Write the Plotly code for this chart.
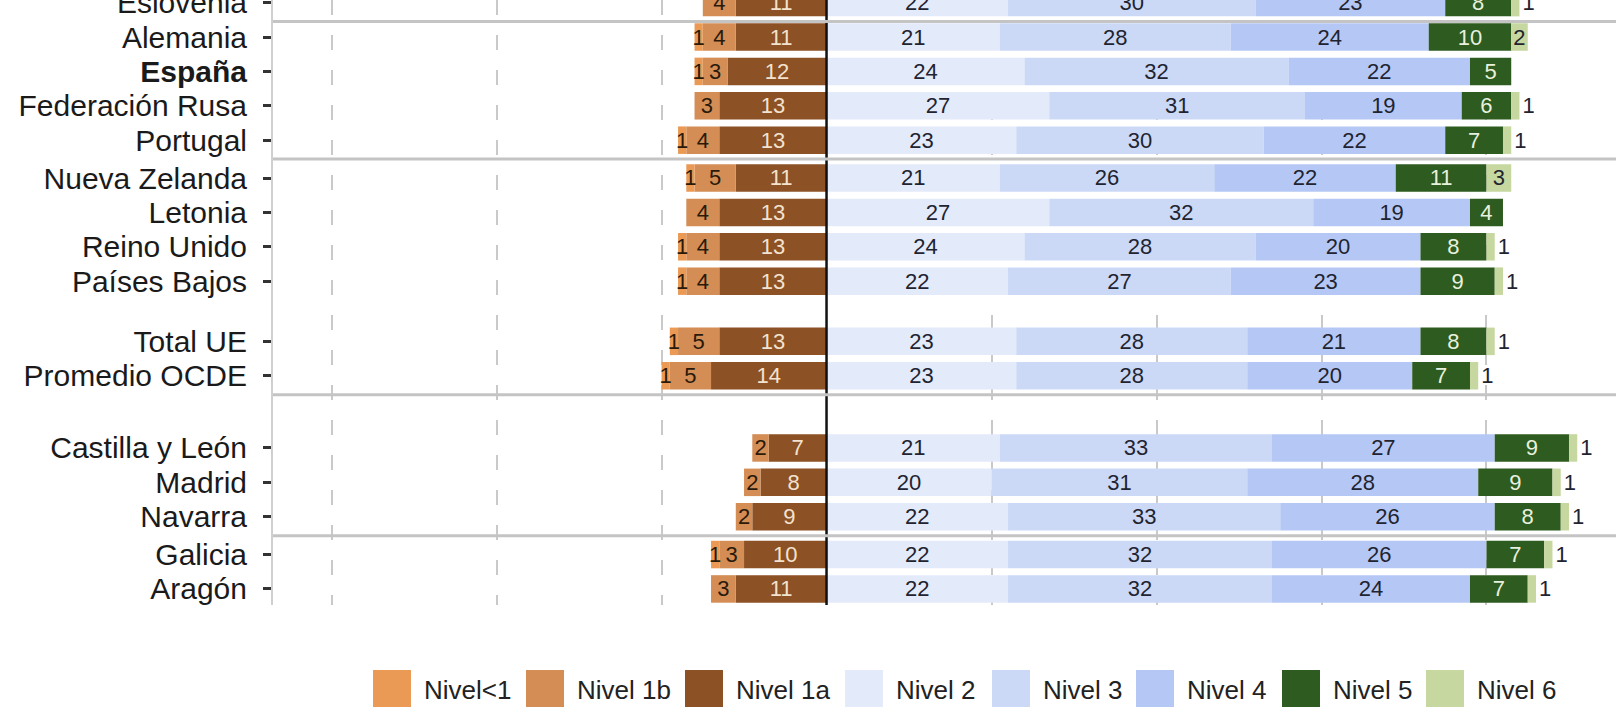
import plotly.graph_objects as go

# ---------------- data ----------------
countries = ["Eslovenia", "Alemania", "España", "Federación Rusa", "Portugal",
             "Nueva Zelanda", "Letonia", "Reino Unido", "Países Bajos",
             "Total UE", "Promedio OCDE",
             "Castilla y León", "Madrid", "Navarra", "Galicia", "Aragón"]
nivel_lt1 = [0, 1, 1, 0, 1, 1, 0, 1, 1, 1, 1, 0, 0, 0, 1, 0]
nivel_1b = [4, 4, 3, 3, 4, 5, 4, 4, 4, 5, 5, 2, 2, 2, 3, 3]
nivel_1a = [11, 11, 12, 13, 13, 11, 13, 13, 13, 13, 14, 7, 8, 9, 10, 11]
nivel_2 = [22, 21, 24, 27, 23, 21, 27, 24, 22, 23, 23, 21, 20, 22, 22, 22]
nivel_3 = [30, 28, 32, 31, 30, 26, 32, 28, 27, 28, 28, 33, 31, 33, 32, 32]
nivel_4 = [23, 24, 22, 19, 22, 22, 19, 20, 23, 21, 20, 27, 28, 26, 26, 24]
nivel_5 = [8, 10, 5, 6, 7, 11, 4, 8, 9, 8, 7, 9, 9, 8, 7, 7]
nivel_6 = [1, 2, 0, 1, 1, 3, 0, 1, 1, 1, 1, 1, 1, 1, 1, 1]

level_names = ["Nivel<1", "Nivel 1b", "Nivel 1a", "Nivel 2", "Nivel 3",
               "Nivel 4", "Nivel 5", "Nivel 6"]
bold_labels = ["España"]
separator_after = ["Eslovenia", "Portugal", "Promedio OCDE", "Navarra"]

# ---------------- style / layout ----------------
extra_gap_after = {"Portugal": 0.1, "Países Bajos": 0.75,
                   "Promedio OCDE": 1.1, "Navarra": 0.1}
colors = {
    "Nivel<1": "#EA9A55", "Nivel 1b": "#D38D55", "Nivel 1a": "#8C5124",
    "Nivel 2": "#E3EAFA", "Nivel 3": "#CBD9F7", "Nivel 4": "#B5C8F5",
    "Nivel 5": "#2E5B1F", "Nivel 6": "#C6D79F",
}
text_colors = {
    "Nivel<1": "#2a1a0a", "Nivel 1b": "#2a1a0a", "Nivel 1a": "#F3E2CF",
    "Nivel 2": "#1f2430", "Nivel 3": "#1f2430", "Nivel 4": "#1f2430",
    "Nivel 5": "#E8F0DE", "Nivel 6": "#1f2430",
}
NUM_FONT = "Liberation Sans Narrow, Arial Narrow, Liberation Sans, Arial"
LBL_FONT = "Liberation Sans, Arial, sans-serif"
NUM_SIZE = 22

# y positions (row index with extra gaps)
ypos = []
p = 0.0
for c in countries:
    ypos.append(p)
    p += 1 + extra_gap_after.get(c, 0)

W, H = 1616, 707
ML, MR, MT, MB = 273, 0, 0, 102
pw, ph = W - ML - MR, H - MT - MB

fig = go.Figure()

def add_level(name, vals, sign, pos_rule=None):
    xs = [sign * v for v in vals]
    txt = [str(v) if v > 0 else "" for v in vals]
    tpos = "inside" if pos_rule is None else [pos_rule(v) for v in vals]
    fig.add_trace(go.Bar(
        y=ypos, x=xs, orientation="h", name=name,
        marker=dict(color=colors[name], line=dict(width=0)),
        text=txt, textposition=tpos, insidetextanchor="middle",
        textangle=0, cliponaxis=False,
        textfont=dict(family=NUM_FONT, size=NUM_SIZE, color=text_colors[name]),
        outsidetextfont=dict(family=NUM_FONT, size=NUM_SIZE, color="#1f2430"),
        width=0.8, showlegend=False, hoverinfo="skip",
    ))

# negative side: nearest to zero first
add_level("Nivel 1a", nivel_1a, -1)
add_level("Nivel 1b", nivel_1b, -1)
add_level("Nivel<1", nivel_lt1, -1)
# positive side
add_level("Nivel 2", nivel_2, 1)
add_level("Nivel 3", nivel_3, 1)
add_level("Nivel 4", nivel_4, 1)
add_level("Nivel 5", nivel_5, 1)
add_level("Nivel 6", nivel_6, 1, pos_rule=lambda v: "outside" if v == 1 else "inside")

ticktext = [f"<b>{c}</b>" if c in bold_labels else c for c in countries]

shapes = []
# zero line
shapes.append(dict(type="line", xref="x", yref="paper", x0=0, x1=0, y0=0, y1=1,
                   line=dict(color="#111111", width=2.5), layer="above"))
# group separators
for c in separator_after:
    yy = ypos[countries.index(c)] + 0.55
    shapes.append(dict(type="line", xref="paper", yref="y", x0=0, x1=1, y0=yy, y1=yy,
                       line=dict(color="#C4C4C4", width=3), layer="above"))

# manual legend (pixel layout converted to paper coords)
legend_px = [373, 526, 685, 845, 992, 1136, 1282, 1426]
sw_w, sw_top, sw_bot, txt_mid = 38, 670, 707, 690
annotations = []
for name, px in zip(level_names, legend_px):
    x0 = (px - ML) / pw
    x1 = (px + sw_w - ML) / pw
    y0 = (ph - (sw_bot - MT)) / ph
    y1 = (ph - (sw_top - MT)) / ph
    shapes.append(dict(type="rect", xref="paper", yref="paper", x0=x0, x1=x1,
                       y0=y0, y1=y1, fillcolor=colors[name], line=dict(width=0)))
    annotations.append(dict(xref="paper", yref="paper", x=(px + 49 - ML) / pw,
                            y=(ph - (txt_mid - MT)) / ph, xanchor="left", yanchor="middle",
                            text=name, showarrow=False,
                            font=dict(family=NUM_FONT, size=26, color="#222222")))

fig.update_layout(
    width=W, height=H,
    margin=dict(l=ML, r=MR, t=MT, b=MB, pad=0, autoexpand=False),
    barmode="relative", bargap=0.2,
    plot_bgcolor="white", paper_bgcolor="white",
    shapes=shapes, annotations=annotations,
    uniformtext=dict(minsize=NUM_SIZE, mode="show"),
    xaxis=dict(range=[-67.1, 95.7], tickvals=[-60, -40, -20, 20, 40, 60, 80],
               showticklabels=False, showgrid=True, gridcolor="#C9C9C9",
               gridwidth=2, griddash="15px,20px", zeroline=False, showline=False,
               automargin=False),
    yaxis=dict(range=[17.517, -0.076], tickvals=ypos, ticktext=ticktext,
               showgrid=False, zeroline=False, showline=True, linecolor="#CFCFCF",
               linewidth=2, ticks="outside", ticklen=8, tickwidth=3,
               tickcolor="#333333", ticklabelstandoff=10,
               ticklabeloverflow="allow", automargin=False,
               tickfont=dict(family=LBL_FONT, size=30, color="#1a1a1a")),
)

fig.write_html("out.html", config={"displayModeBar": False},
               post_script="document.body.style.margin='0';document.body.style.overflow='hidden';")
